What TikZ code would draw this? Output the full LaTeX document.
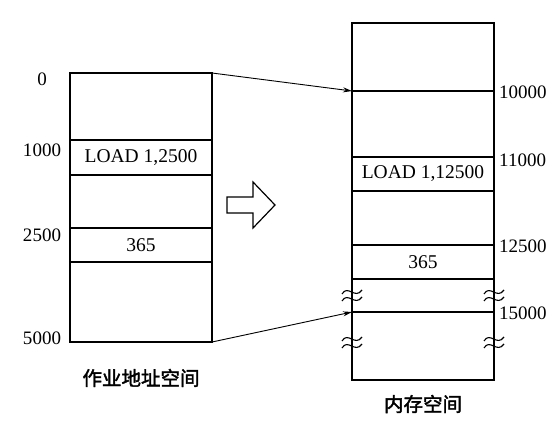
\documentclass[tikz,border=0pt]{standalone}
\usepackage{fontspec}
\setmainfont{Liberation Serif}
\newfontfamily\cjk[FakeBold=2]{Noto Sans CJK SC}
\usetikzlibrary{arrows.meta,positioning}
\tikzset{
  cell/.style={draw, line width=1.5pt, minimum width=142pt, minimum height=#1,
               inner sep=0pt, outer sep=0pt, font=\fontsize{19.5}{21}\selectfont},
  addr/.style={inner sep=0pt, font=\fontsize{19}{21}\selectfont},
  caption/.style={inner sep=0pt, font=\cjk\fontsize{19.5}{21}\selectfont},
  maparrow/.style={-{Stealth[length=9pt,width=5pt]}, line width=0.9pt},
  wave/.pic={
    \draw[line width=1.1pt] (-10,-2) .. controls (-4,-12) and (3,4) .. (10,-6);
    \draw[line width=1.1pt] (-10,5) .. controls (-4,-5) and (3,11) .. (10,1);
  },
}

\begin{document}
\begin{tikzpicture}[x=1pt, y=-1pt]
  \useasboundingbox (0,0) rectangle (559,431);

  % job address space
  \node[cell=67pt, anchor=north west] (job0) at (70,73) {};
  \node[cell=35pt, below=0pt of job0] (job1) {LOAD 1,2500};
  \node[cell=53pt, below=0pt of job1] (job2) {};
  \node[cell=34pt, below=0pt of job2] (job3) {365};
  \node[cell=80pt, below=0pt of job3] (job4) {};

  \node[addr] (ja0) at (42,79) {0};
  \node[addr] (ja1) at (42,150) {1000};
  \node[addr] (ja2) at (42,235) {2500};
  \node[addr] (ja3) at (42,338) {5000};

  \node[caption] (jobcap) at (141,378) {作业地址空间};

  % memory space
  \node[cell=68pt, anchor=north west] (mem0) at (352,23) {};
  \node[cell=66pt, below=0pt of mem0] (mem1) {};
  \node[cell=34pt, below=0pt of mem1] (mem2) {LOAD 1,12500};
  \node[cell=54pt, below=0pt of mem2] (mem3) {};
  \node[cell=34pt, below=0pt of mem3] (mem4) {365};
  \node[cell=33pt, below=0pt of mem4] (mem5) {};
  \node[cell=68pt, below=0pt of mem5] (mem6) {};

  \node[addr, anchor=west] (ma0) at (499,92) {10000};
  \node[addr, anchor=west] (ma1) at (499,160) {11000};
  \node[addr, anchor=west] (ma2) at (499,246) {12500};
  \node[addr, anchor=west] (ma3) at (499,313) {15000};

  \node[caption] (memcap) at (423,404) {内存空间};

  % breaks
  \foreach \y in {296,343}
    \foreach \x in {352,494}
      \pic at (\x,\y) {wave};

  % relocation
  \draw[line width=1.2pt, fill=white] (227,197) -- (253,197) -- (253,182) -- (275,205)
    -- (253,228) -- (253,213) -- (227,213) -- cycle;

  \draw[maparrow] (job0.north east) -- (mem1.north west);
  \draw[maparrow] (job4.south east) -- (mem6.north west);
\end{tikzpicture}
\end{document}
